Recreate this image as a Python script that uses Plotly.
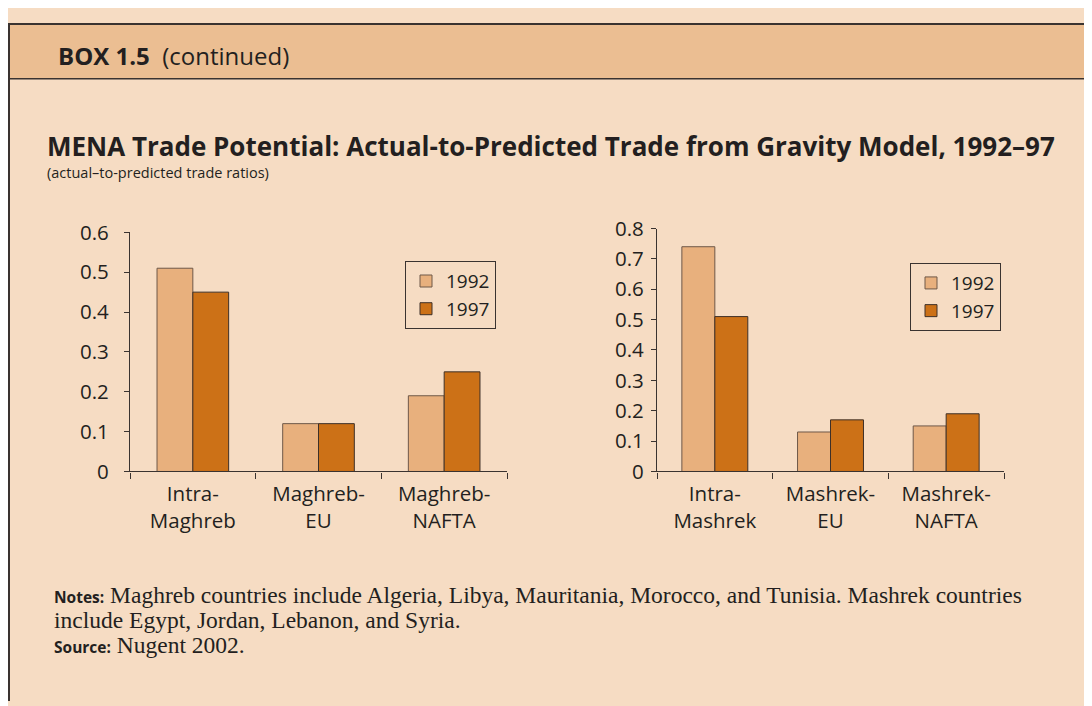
import plotly.graph_objects as go

# the page body adds an 8px margin, so the figure starts at page (8, 8);
# it is made full size so that it also covers the right and bottom edges
W, H = 1092, 706

years = ["1992", "1997"]
maghreb_cats = ["Intra-<br>Maghreb", "Maghreb-<br>EU", "Maghreb-<br>NAFTA"]
maghreb_1992 = [0.51, 0.12, 0.19]
maghreb_1997 = [0.45, 0.12, 0.25]
mashrek_cats = ["Intra-<br>Mashrek", "Mashrek-<br>EU", "Mashrek-<br>NAFTA"]
mashrek_1992 = [0.74, 0.13, 0.15]
mashrek_1997 = [0.51, 0.17, 0.19]

c92 = "#E8B07D"
c97 = "#CC7117"
bg = "#F6DCC3"
band = "#EBBE92"
ink = "#231f20"
sans = "Open Sans"
serif = "Liberation Serif"


def px(x):
    # page pixel -> paper fraction
    return (x - 8) / W


def py(y):
    return 1 - (y - 8) / H


fig = go.Figure()

for cats, v92, v97, xa, ya, lg in [
    (maghreb_cats, maghreb_1992, maghreb_1997, "x", "y", "legend"),
    (mashrek_cats, mashrek_1992, mashrek_1997, "x2", "y2", "legend2"),
]:
    fig.add_trace(go.Bar(x=cats, y=v92, name=years[0], xaxis=xa, yaxis=ya, legend=lg,
                         marker=dict(color=c92, line=dict(color="#6e5848", width=1))))
    fig.add_trace(go.Bar(x=cats, y=v97, name=years[1], xaxis=xa, yaxis=ya, legend=lg,
                         marker=dict(color=c97, line=dict(color="#3e3028", width=1))))

axis_common = dict(showline=True, linecolor="#3a3330", linewidth=1.2, ticks="outside",
                   tickcolor="#3a3330", showgrid=False, zeroline=False,
                   tickfont=dict(family=sans, size=20.5, color=ink))

legend_common = dict(xanchor="left", yanchor="top", bgcolor="rgba(0,0,0,0)",
                     bordercolor="#3a3330", borderwidth=1, itemwidth=30, tracegroupgap=0,
                     font=dict(family=sans, size=19, color=ink))

fig.update_layout(
    width=W, height=H,
    margin=dict(l=0, r=0, t=0, b=0),
    paper_bgcolor=bg,
    plot_bgcolor="rgba(0,0,0,0)",
    barmode="group", bargap=0.43, bargroupgap=0,
    font=dict(family=sans, color=ink),
    xaxis=dict(domain=[px(130), px(507)], anchor="y", tickson="boundaries", ticklen=6,
               ticklabelstandoff=4, **axis_common),
    yaxis=dict(domain=[py(475), py(226)], anchor="x", range=[0, 0.6], dtick=0.1,
               tickformat="~g", ticklen=5, ticklabelstandoff=11, **axis_common),
    xaxis2=dict(domain=[px(657), px(1004)], anchor="y2", tickson="boundaries", ticklen=6,
                ticklabelstandoff=4, **axis_common),
    yaxis2=dict(domain=[py(475), py(222)], anchor="x2", range=[0, 0.8], dtick=0.1,
                tickformat="~g", ticklen=5, ticklabelstandoff=3, **axis_common),
    legend=dict(x=px(405), y=py(256), **legend_common),
    legend2=dict(x=px(910), y=py(258), **legend_common),
    shapes=[
        dict(type="rect", xref="paper", yref="paper", x0=0, x1=1, y0=py(66), y1=1,
             fillcolor=band, line=dict(width=0), layer="below"),
        dict(type="line", xref="paper", yref="paper", x0=0, x1=1, y0=py(9), y1=py(9),
             line=dict(color="#3a3330", width=2)),
        dict(type="line", xref="paper", yref="paper", x0=0, x1=1, y0=py(66), y1=py(66),
             line=dict(color="#3a3330", width=1.5)),
        dict(type="line", xref="paper", yref="paper", x0=px(9), x1=px(9), y0=0, y1=1,
             line=dict(color="#3a3330", width=2)),
    ],
)

annots = [
    dict(x=56, y=42, text="<b>BOX 1.5</b>  (continued)", size=24, family=sans),
    dict(x=45, y=136, text="<b>MENA Trade Potential: Actual-to-Predicted Trade from Gravity Model, 1992–97</b>",
         size=26, family=sans),
    dict(x=45, y=164, text="(actual–to-predicted trade ratios)", size=14.5, family=sans),
    dict(x=52, y=604,
         text="<span style='font-family:Open Sans;font-size:15.5px'><b>Notes:</b></span> Maghreb countries include Algeria, Libya, Mauritania, Morocco, and Tunisia. Mashrek countries",
         size=23.5, family=serif),
    dict(x=52, y=630, text="include Egypt, Jordan, Lebanon, and Syria.", size=23.5, family=serif),
    dict(x=52, y=656,
         text="<span style='font-family:Open Sans;font-size:15.5px'><b>Source:</b></span> Nugent 2002.",
         size=23.5, family=serif),
]
fig.update_layout(annotations=[
    dict(xref="paper", yref="paper", x=px(a["x"]), y=py(a["y"]), xanchor="left", yanchor="middle",
         text=a["text"], showarrow=False, font=dict(family=a["family"], size=a["size"], color=ink))
    for a in annots
])

fig.write_html("out.html")
